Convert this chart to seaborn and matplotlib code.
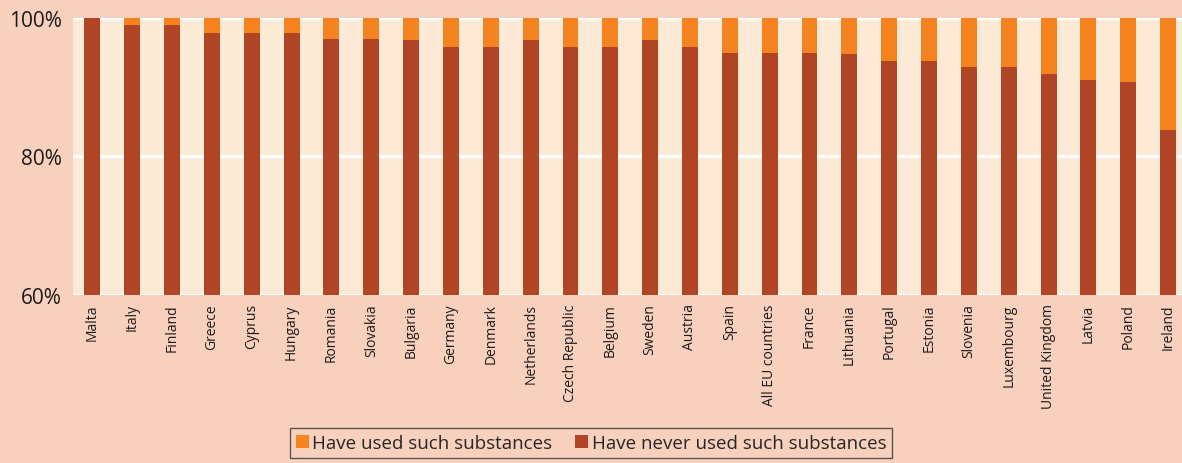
import numpy as np
import pandas as pd
import matplotlib
matplotlib.use('Agg')
import matplotlib.pyplot as plt
import seaborn as sns
from matplotlib.ticker import FuncFormatter

countries = ['Malta', 'Italy', 'Finland', 'Greece', 'Cyprus', 'Hungary', 'Romania',
             'Slovakia', 'Bulgaria', 'Germany', 'Denmark', 'Netherlands',
             'Czech Republic', 'Belgium', 'Sweden', 'Austria', 'Spain',
             'All EU countries', 'France', 'Lithuania', 'Portugal', 'Estonia',
             'Slovenia', 'Luxembourg', 'United Kingdom', 'Latvia', 'Poland', 'Ireland']
never_used = [99.9, 98.9, 98.9, 97.8, 97.8, 97.8, 96.9, 96.9, 96.8, 95.8, 95.8, 96.8,
              95.8, 95.8, 96.8, 95.8, 94.9, 94.9, 94.9, 94.7, 93.8, 93.8, 92.9, 92.9,
              91.9, 91.0, 90.7, 83.8]
used = [100 - v for v in never_used]

df = pd.DataFrame({'country': countries, 'never': never_used, 'total': [n + u for n, u in zip(never_used, used)]})

red = '#B04526'
orange = '#F58420'
outer_bg = '#F7D1BD'
inner_bg = '#FCE9D6'

sns.set_style('white')
plt.rcParams['font.family'] = ['Open Sans', 'DejaVu Sans']

fig, ax = plt.subplots(figsize=(11.82, 4.64), dpi=100)
fig.patch.set_facecolor(outer_bg)
ax.set_facecolor(inner_bg)
fig.subplots_adjust(left=0.062, right=1.0, top=0.96, bottom=0.362)

# total bar (orange) first, then never-used bar (red) on top
sns.barplot(data=df, x='country', y='total', color=orange, width=0.4, ax=ax,
            saturation=1, label='Have used such substances', zorder=2, linewidth=0)
sns.barplot(data=df, x='country', y='never', color=red, width=0.4, ax=ax,
            saturation=1, label='Have never used such substances', zorder=3, linewidth=0)

ax.set_ylim(60, 100)
ax.set_yticks([60, 80, 100])
ax.yaxis.set_major_formatter(FuncFormatter(lambda v, p: f'{v:.0f}%'))
ax.tick_params(axis='y', labelsize=15, length=0, pad=8, labelcolor='#1a1a1a')
ax.tick_params(axis='x', labelsize=10, length=0, pad=6, labelrotation=90, labelcolor='#1a1a1a')
ax.set_xlim(-0.48, len(countries) - 0.65)
ax.yaxis.grid(True, color='white', linewidth=2.5, zorder=1)
ax.set_axisbelow(True)
ax.set_xlabel('')
ax.set_ylabel('')
for s in ax.spines.values():
    s.set_visible(False)

leg = fig.legend(*ax.get_legend_handles_labels(), loc='center', bbox_to_anchor=(0.5, 0.043),
                 ncol=2, frameon=True, fontsize=13.5, handlelength=0.7, handleheight=0.7,
                 handletextpad=0.2, columnspacing=1.2, borderpad=0.3, fancybox=False)
leg.get_frame().set_edgecolor('#333333')
leg.get_frame().set_facecolor(outer_bg)
leg.get_frame().set_linewidth(1.0)
if ax.get_legend() is not None:
    ax.get_legend().remove()

plt.savefig('out.png', dpi=100, facecolor=fig.get_facecolor())
